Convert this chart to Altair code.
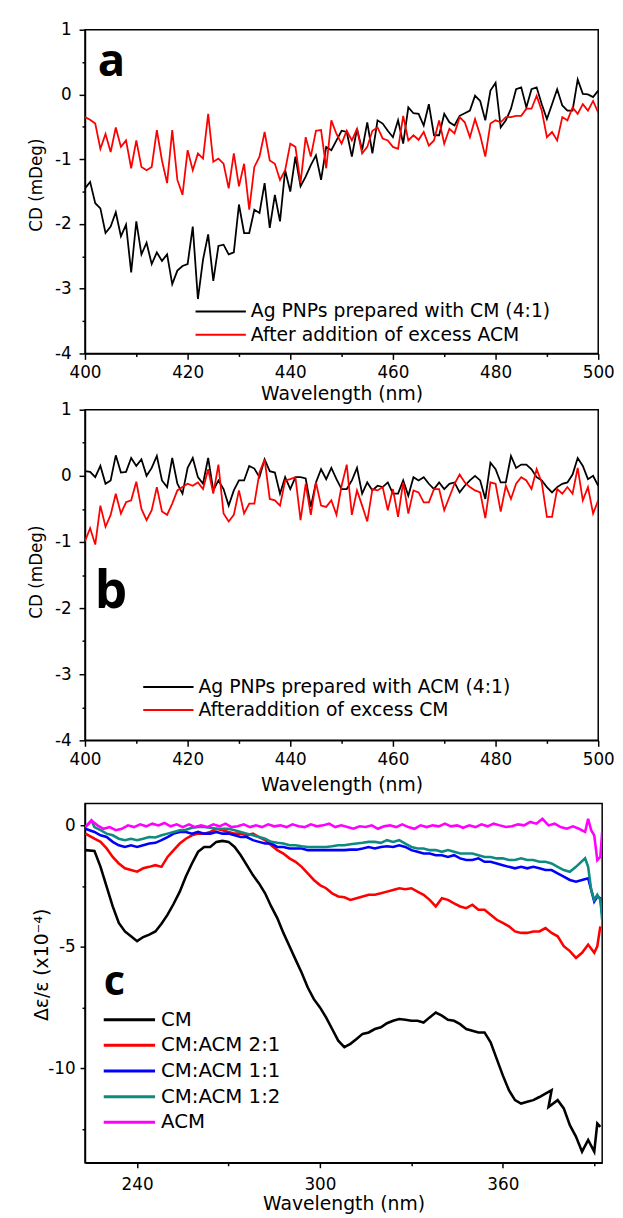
import altair as alt
import pandas as pd

FONT = "DejaVu Sans"

# ---------------- data ----------------
wl_ab = list(range(400, 501))

a_black = [-1.45, -1.35, -1.68, -1.76, -2.14, -2.04, -1.82, -2.19, -2.01, -2.75,
           -1.96, -2.47, -2.29, -2.62, -2.44, -2.57, -2.47, -2.93, -2.72, -2.65,
           -2.62, -2.04, -3.16, -2.55, -2.16, -2.88, -2.34, -2.32, -2.47, -2.44,
           -1.70, -2.14, -2.14, -1.78, -1.83, -1.37, -2.06, -1.55, -1.96, -1.17,
           -1.50, -0.96, -1.42, -1.27, -1.09, -0.94, -1.32, -0.81, -0.86, -0.71,
           -0.56, -0.58, -0.96, -0.53, -0.86, -0.43, -0.91, -0.40, -0.45, -0.56,
           -0.66, -0.40, -0.76, -0.20, -0.29, -0.30, -0.48, -0.15, -0.63, -0.63,
           -0.30, -0.43, -0.48, -0.33, -0.29, -0.25, -0.02, -0.10, -0.40, 0.06,
           0.18, -0.51, -0.40, -0.22, 0.08, 0.11, -0.20, 0.08, 0.11, -0.15,
           -0.38, -0.15, 0.08, -0.17, -0.25, -0.25, 0.23, 0.01, 0.00, -0.04,
           0.06]
a_red = [-0.35, -0.39, -0.45, -0.84, -0.61, -0.89, -0.51, -0.81, -0.71, -1.14,
         -0.71, -1.12, -1.17, -1.12, -0.55, -1.02, -1.37, -0.55, -1.32, -1.55,
         -0.86, -1.17, -0.91, -0.99, -0.30, -1.04, -0.99, -1.07, -1.45, -0.91,
         -1.42, -1.07, -1.78, -1.12, -0.96, -0.58, -1.02, -1.07, -1.32, -1.17,
         -0.76, -0.81, -1.37, -0.66, -0.96, -0.56, -0.55, -1.14, -0.40, -0.61,
         -0.76, -0.56, -0.71, -0.53, -0.91, -0.81, -0.56, -0.51, -0.68, -0.71,
         -0.81, -0.84, -0.33, -0.71, -0.63, -0.70, -0.58, -0.79, -0.71, -0.40,
         -0.76, -0.53, -0.60, -0.35, -0.43, -0.66, -0.38, -0.63, -0.96, -0.45,
         -0.40, -0.43, -0.35, -0.35, -0.33, -0.33, -0.22, -0.22, -0.02, -0.25,
         -0.66, -0.58, -0.71, -0.35, -0.40, -0.20, -0.30, -0.15, -0.25, -0.10,
         -0.28]
b_black = [0.07, 0.06, -0.02, 0.15, -0.12, -0.07, 0.31, 0.05, 0.06, 0.27,
           0.15, 0.25, 0.00, 0.12, 0.30, -0.07, -0.17, 0.27, -0.12, -0.27,
           0.12, 0.27, -0.02, -0.12, 0.27, -0.22, -0.07, -0.20, -0.45, -0.22,
           -0.07, -0.07, 0.15, 0.11, -0.02, 0.25, 0.07, 0.05, -0.27, -0.02,
           -0.20, -0.02, -0.02, -0.04, -0.47, -0.10, 0.10, -0.05, 0.12, -0.05,
           -0.20, -0.20, -0.07, 0.12, -0.27, -0.10, -0.22, -0.15, -0.17, -0.10,
           -0.27, -0.27, -0.07, -0.30, -0.02, -0.07, -0.02, -0.12, -0.20, -0.10,
           -0.20, -0.12, -0.10, -0.25, -0.15, -0.07, 0.00, -0.07, -0.35, 0.20,
           0.10, -0.10, -0.10, 0.30, 0.12, 0.17, 0.17, 0.10, -0.02, -0.07,
           -0.17, -0.25, -0.17, -0.12, -0.10, 0.02, 0.27, 0.15, -0.05, 0.00,
           -0.15]
b_red = [-0.99, -0.79, -1.04, -0.45, -0.77, -0.59, -0.27, -0.57, -0.40, -0.37,
         -0.09, -0.50, -0.67, -0.52, -0.17, -0.54, -0.59, -0.42, -0.22, -0.17,
         -0.12, -0.15, -0.10, -0.20, 0.10, -0.27, 0.17, -0.57, -0.69, -0.59,
         -0.22, -0.57, -0.42, -0.42, 0.05, 0.25, -0.35, -0.37, -0.45, -0.07,
         -0.05, -0.02, -0.67, -0.12, -0.59, -0.10, -0.45, -0.47, -0.37, -0.59,
         -0.15, 0.17, -0.59, -0.22, -0.45, -0.69, -0.20, -0.22, -0.17, -0.52,
         -0.20, -0.62, -0.10, -0.57, -0.22, -0.25, -0.40, -0.40, -0.20, -0.20,
         -0.52, -0.32, -0.12, 0.02, -0.10, -0.17, -0.22, -0.25, -0.64, -0.10,
         -0.12, -0.54, -0.15, -0.35, -0.12, -0.02, -0.07, -0.20, 0.10, -0.10,
         -0.62, -0.62, -0.20, -0.27, -0.17, -0.27, 0.12, -0.37, -0.17, -0.57,
         -0.37]

a_names = ["Ag PNPs prepared with CM (4:1)", "After addition of excess ACM"]
b_names = ["Ag PNPs prepared with ACM (4:1)", "Afteraddition of excess CM"]
ab_colors = ["#000000", "#ff0000"]

# panel c
grid_c = [223] + list(range(226, 393, 2))
cm_x = grid_c[:77] + [375] + grid_c[77:84] + [391, 392]
cm_y = [-1.02, -1.05, -1.71, -2.52, -3.34, -4.02, -4.37, -4.57, -4.77, -4.60,
        -4.50, -4.37, -4.05, -3.68, -3.23, -2.73, -2.11, -1.57, -1.09, -0.89,
        -0.89, -0.68, -0.64, -0.68, -0.89, -1.23, -1.64, -2.05, -2.39, -2.80,
        -3.34, -3.82, -4.43, -4.98, -5.53, -6.07, -6.68, -7.16, -7.50, -7.91,
        -8.39, -8.87, -9.14, -9.00, -8.80, -8.59, -8.53, -8.39, -8.32, -8.15,
        -8.05, -7.98, -8.01, -8.05, -8.05, -8.12, -7.91, -7.71, -7.84, -8.01,
        -8.05, -8.19, -8.39, -8.46, -8.53, -8.53, -8.94, -9.62, -10.30, -10.91,
        -11.32, -11.46, -11.39, -11.32, -11.19, -11.05, -10.91, -11.60, -11.32,
        -11.66, -12.35, -12.82, -13.44, -12.96, -13.44, -12.28, -12.42, -11.60]
r21_x = grid_c[:84] + [391, 392]
r21_y = [-0.34, -0.55, -0.68, -0.95, -1.30, -1.57, -1.77, -1.84, -1.91, -1.77,
         -1.71, -1.64, -1.71, -1.30, -1.02, -0.75, -0.55, -0.41, -0.34, -0.34,
         -0.27, -0.14, -0.20, -0.27, -0.34, -0.34, -0.41, -0.34, -0.48, -0.61,
         -0.82, -1.02, -1.16, -1.36, -1.50, -1.71, -1.98, -2.25, -2.46, -2.59,
         -2.80, -2.93, -2.96, -3.07, -3.00, -2.93, -2.86, -2.86, -2.80, -2.73,
         -2.66, -2.59, -2.63, -2.59, -2.73, -2.86, -3.07, -3.34, -3.00, -3.07,
         -3.21, -3.34, -3.41, -3.27, -3.48, -3.48, -3.68, -3.89, -4.02, -4.16,
         -4.37, -4.43, -4.43, -4.37, -4.37, -4.23, -4.43, -4.57, -4.98, -5.18,
         -5.46, -5.25, -4.91, -5.25, -4.98, -4.16]
r11_x = grid_c[:83] + [389, 390, 391, 392, 392.6]
r11_y = [-0.14, -0.27, -0.41, -0.48, -0.68, -0.82, -0.89, -0.82, -0.89, -0.82,
         -0.75, -0.72, -0.61, -0.48, -0.34, -0.27, -0.27, -0.34, -0.27, -0.34,
         -0.34, -0.27, -0.34, -0.34, -0.41, -0.48, -0.48, -0.61, -0.68, -0.75,
         -0.75, -0.89, -0.89, -0.95, -0.95, -0.95, -1.02, -1.02, -1.02, -1.02,
         -1.02, -1.02, -1.02, -1.00, -1.00, -0.95, -0.89, -0.95, -0.89, -0.86,
         -0.89, -0.82, -0.89, -1.02, -1.09, -1.16, -1.16, -1.23, -1.23, -1.30,
         -1.23, -1.36, -1.43, -1.43, -1.36, -1.50, -1.50, -1.57, -1.64, -1.71,
         -1.77, -1.71, -1.77, -1.71, -1.77, -1.84, -1.84, -1.98, -2.11, -2.25,
         -2.32, -2.25, -2.18, -2.66, -3.14, -2.93, -3.00, -3.62]
r12_x = [223, 225] + grid_c[1:81] + [387, 388, 389, 390, 391, 392, 392.6]
r12_y = [-0.07, 0.20, -0.07, -0.20, -0.34, -0.41, -0.55, -0.61, -0.55, -0.61,
         -0.55, -0.48, -0.50, -0.41, -0.34, -0.27, -0.20, -0.18, -0.10, -0.07,
         -0.07, -0.10, -0.14, -0.14, -0.14, -0.20, -0.27, -0.34, -0.41, -0.48,
         -0.55, -0.68, -0.72, -0.75, -0.82, -0.82, -0.86, -0.89, -0.89, -0.89,
         -0.89, -0.86, -0.82, -0.82, -0.78, -0.75, -0.72, -0.68, -0.68, -0.72,
         -0.61, -0.68, -0.61, -0.75, -0.89, -0.95, -0.95, -1.02, -1.02, -1.09,
         -1.02, -1.09, -1.16, -1.16, -1.16, -1.23, -1.30, -1.30, -1.36, -1.36,
         -1.43, -1.43, -1.36, -1.43, -1.43, -1.50, -1.50, -1.57, -1.71, -1.84,
         -1.91, -1.71, -1.36, -1.71, -2.66, -3.07, -2.86, -3.07, -3.89]
acm_x = [223] + list(range(225, 388, 2)) + [388, 389, 390, 391, 392, 392.6]
acm_y = [-0.07, 0.20, 0.00, -0.14, -0.07, -0.20, -0.14, 0.00, -0.07, 0.04,
         -0.04, 0.07, 0.00, 0.10, -0.04, 0.04, -0.07, 0.04, -0.07, 0.00,
         -0.07, 0.04, -0.04, 0.07, -0.07, -0.04, 0.04, -0.07, 0.00, -0.07,
         0.04, -0.04, 0.00, -0.07, 0.04, -0.04, -0.07, 0.04, -0.04, 0.00,
         0.07, -0.07, 0.00, -0.07, -0.14, -0.04, -0.07, 0.00, -0.14, -0.04,
         0.00, -0.07, 0.04, -0.07, -0.14, 0.00, -0.07, 0.00, -0.04, 0.07,
         -0.04, 0.00, -0.10, 0.00, -0.07, 0.04, -0.04, 0.07, 0.00, -0.07,
         -0.04, 0.04, 0.00, 0.14, 0.07, 0.27, 0.00, 0.07, -0.07, -0.14,
         -0.04, -0.14, -0.27, 0.27, -0.20, -0.41, -1.43, -1.30, -0.27]

c_names = ["CM", "CM:ACM 2:1", "CM:ACM 1:1", "CM:ACM 1:2", "ACM"]
c_colors = ["#000000", "#ff0000", "#0000ff", "#0f8a80", "#ff00ff"]


def long_df(xs, ys, names):
    rows = []
    for k, (xv, yv, nm) in enumerate(zip(xs, ys, names)):
        for i, (x, y) in enumerate(zip(xv, yv)):
            rows.append({"wl": x, "v": y, "s": nm, "k": k, "i": i})
    return pd.DataFrame(rows)


df_a = long_df([wl_ab, wl_ab], [a_black, a_red], a_names)
df_b = long_df([wl_ab, wl_ab], [b_black, b_red], b_names)
df_c = long_df([cm_x, r21_x, r11_x, r12_x, acm_x],
               [cm_y, r21_y, r11_y, r12_y, acm_y], c_names)


def int_label(step):
    return (f"datum.value % {step} == 0 ? (datum.value < 0 ? '-' + format(-datum.value, 'd') "
            f": format(datum.value, 'd')) : ''")


def letter_layer(letter, size, px, py):
    return alt.Chart(pd.DataFrame({"t": [letter]})).mark_text(
        font="Open Sans", fontWeight="bold", fontSize=size,
        align="left", baseline="alphabetic", color="black"
    ).encode(x=alt.value(px), y=alt.value(py), text="t:N")


def legend_layers(names, colors, x1, x2, tx, y0, dy, fs, sw):
    out = []
    for i, (nm, col) in enumerate(zip(names, colors)):
        d = pd.DataFrame({"t": [nm]})
        yy = y0 + dy * i
        out.append(alt.Chart(d).mark_rule(color=col, strokeWidth=sw).encode(
            x=alt.value(x1), x2=alt.value(x2), y=alt.value(yy)))
        out.append(alt.Chart(d).mark_text(font=FONT, fontSize=fs, align="left",
                                          baseline="middle", color="black").encode(
            x=alt.value(tx), y=alt.value(yy), text="t:N"))
    return out


def cd_panel(df, names, height, letter, lsize, lx, ly, leg, title_y, xtitle_y):
    xaxis = alt.Axis(
        title="Wavelength (nm)", values=list(range(400, 501, 10)),
        labelExpr=int_label(20),
        tickSize={"condition": {"test": "datum.value % 20 == 0", "value": 6}, "value": 3},
        labelPadding=5, labelFontSize=17, labelOverlap=False, labelFlush=False,
        titleFontSize=19, titleFontWeight="normal", titleX=260, titleY=xtitle_y,
        titleBaseline="alphabetic",
    )
    yaxis = alt.Axis(
        title="CD (mDeg)", values=[1, 0.5, 0, -0.5, -1, -1.5, -2, -2.5, -3, -3.5, -4],
        labelExpr=int_label(1),
        tickSize={"condition": {"test": "datum.value % 1 == 0", "value": 6}, "value": 3},
        labelPadding=8, labelFontSize=17, labelOverlap=False, labelFlush=False,
        titleFontSize=17, titleFontWeight="normal", titleX=-49, titleY=title_y,
        titleBaseline="middle",
    )
    lines = alt.Chart(df).mark_line(strokeWidth=1.8, clip=True).encode(
        x=alt.X("wl:Q", scale=alt.Scale(domain=[400, 500], nice=False, zero=False), axis=xaxis),
        y=alt.Y("v:Q", scale=alt.Scale(domain=[-4, 1], nice=False, zero=False), axis=yaxis),
        color=alt.Color("s:N", scale=alt.Scale(domain=names, range=ab_colors), legend=None),
        detail="k:N",
        order="i:Q",
    )
    layers = [lines, letter_layer(letter, lsize, lx, ly)]
    layers += legend_layers(names, ab_colors, leg[0], leg[0] + 51, leg[0] + 56, leg[1], leg[2], 19, 2)
    return alt.layer(*layers).properties(width=520, height=height)


pa = cd_panel(df_a, a_names, 328, "a", 46, 13, 47, (112, 285.5, 23.5), 157, 47)
pb = cd_panel(df_b, b_names, 335, "b", 52, 10, 201, (59, 281, 23.3), 164, 51)

cx_axis = alt.Axis(
    title="Wavelength (nm)", values=[240, 270, 300, 330, 360, 390],
    labelExpr=int_label(60),
    tickSize={"condition": {"test": "datum.value % 60 == 0", "value": 5}, "value": 3},
    labelPadding=9, labelFontSize=17, labelOverlap=False, labelFlush=False,
    titleFontSize=19, titleFontWeight="normal", titleX=262, titleY=47,
    titleBaseline="alphabetic",
)
cy_axis = alt.Axis(
    title="\u0394\u03b5/\u03b5 (x10\u207b\u2074)", values=[0, -2.5, -5, -7.5, -10, -12.5],
    labelExpr=int_label(5),
    tickSize={"condition": {"test": "datum.value % 5 == 0", "value": 5}, "value": 3},
    labelPadding=5, labelFontSize=17, labelOverlap=False, labelFlush=False,
    titleFontSize=19, titleFontWeight="normal", titleX=-44, titleY=163,
    titleBaseline="middle",
)
c_lines = alt.Chart(df_c).mark_line(strokeWidth=2.6, clip=True).encode(
    x=alt.X("wl:Q", scale=alt.Scale(domain=[222.9, 392.6], nice=False, zero=False), axis=cx_axis),
    y=alt.Y("v:Q", scale=alt.Scale(domain=[-13.9, 0.9], nice=False, zero=False), axis=cy_axis),
    color=alt.Color("s:N", scale=alt.Scale(domain=c_names, range=c_colors), legend=None),
    detail="k:N",
    order="i:Q",
)
c_layers = [c_lines, letter_layer("c", 42, 19, 194)]
c_layers += legend_layers(c_names, c_colors, 19, 71, 77, 219, 26, 20, 3)
pc = alt.layer(*c_layers).properties(width=524, height=364)

top = alt.vconcat(pa, pb, spacing=-5).resolve_scale(color="independent")
chart = alt.vconcat(top, pc, spacing=7).resolve_scale(color="independent").properties(
    padding={"left": 19, "top": 4, "right": 0, "bottom": 0}, background="white"
).configure_view(stroke="black", strokeWidth=1.5).configure_axis(
    grid=False, domainColor="black", domainWidth=1.5, tickColor="black", tickWidth=1.5,
    labelColor="black", titleColor="black", labelFont=FONT, titleFont=FONT,
    titleFontWeight="normal",
)

chart.save("out.html", embed_options={"renderer": "svg", "actions": False})
